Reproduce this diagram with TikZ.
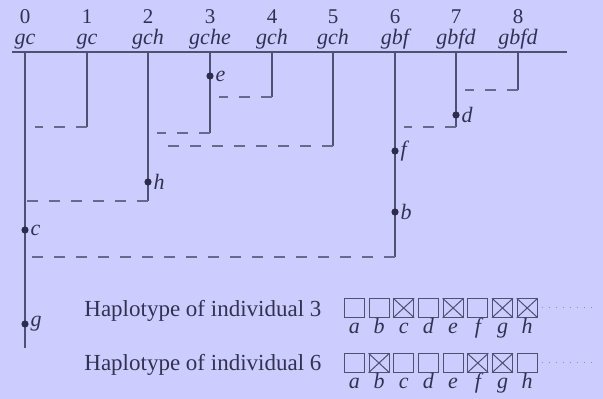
\documentclass[tikz,border=0pt]{standalone}
\usepackage{fontspec}
\setmainfont{Liberation Serif}
\definecolor{bgC}{RGB}{204,204,255}
\definecolor{txtC}{RGB}{50,50,80}
\definecolor{lineC}{RGB}{80,80,112}
\definecolor{dashC}{RGB}{105,105,140}
\definecolor{dotC}{RGB}{45,45,75}
\definecolor{dotlineC}{RGB}{140,140,175}
\begin{document}
\begin{tikzpicture}[x=0.5pt,y=-0.5pt,
  lin/.style={draw=lineC, line width=0.65pt},
  dsh/.style={draw=dashC, line width=0.65pt, dash pattern=on 5.5pt off 5.5pt},
  dotn/.style={circle, fill=dotC, inner sep=0pt, minimum size=3.6pt},
  num/.style={font=\fontsize{10.5}{12}\selectfont, text=txtC, anchor=base, inner sep=0pt},
  seq/.style={font=\fontsize{11}{13}\selectfont\itshape, text=txtC, anchor=base, inner sep=0pt},
  mut/.style={font=\fontsize{11}{13}\selectfont\itshape, text=txtC, anchor=west, inner sep=0.6pt},
  txt/.style={font=\fontsize{11.5}{14}\selectfont, text=txtC, anchor=base west, inner sep=0pt},
  hbox/.style={draw=lineC, line width=0.5pt, minimum width=10pt, minimum height=9.2pt, inner sep=0pt},
  xln/.style={draw=lineC, line width=0.5pt},
  dtt/.style={draw=dotlineC, line width=0.5pt, dash pattern=on 0.5pt off 3pt}
]
\fill[bgC] (0,0) rectangle (603,399);
\useasboundingbox (0,0) rectangle (603,399);

% sequence axis
\coordinate (axL) at (12,52);
\coordinate (axR) at (567,52);
\draw[lin] (axL) -- (axR);

% lineages: index / x / bottom y / number / sequence label
\foreach \i/\x/\yb/\s in {0/25/348/gc, 1/87/127/gc, 2/148/201/gch, 3/210/133/gche,
                          4/272/97/gch, 5/333/146/gch, 6/395/257/gbf, 7/456/127/gbfd, 8/518/90/gbfd}{
  \coordinate (t\i) at (\x,52);
  \coordinate (b\i) at (\x,\yb);
  \node[num] (n\i) at (\x,24) {\i};
  \node[seq] (s\i) at (\x,45) {\s};
  \draw[lin] (t\i) -- (b\i);
}

% coalescence joins (dashed, from child lineage to its parent)
\coordinate (j1) at (35,127);
\coordinate (j2) at (25,201);
\coordinate (j3) at (157,133);
\coordinate (j4) at (219,97);
\coordinate (j5) at (159,146);
\coordinate (j6) at (25,257);
\coordinate (j7) at (404,127);
\coordinate (j8) at (465,90);
\foreach \i in {1,...,8}{ \draw[dsh] (b\i) -- (j\i); }

% mutations
\foreach \m/\x/\y in {e/210/76, d/456/115, f/395/151, h/148/182, b/395/212, c/25/230, g/25/324}{
  \node[dotn] (m\m) at (\x,\y) {};
  \node[mut] (l\m) at (m\m.east) {\m};
}

% haplotypes
\node[txt] (h3) at (84,317) {Haplotype of individual 3};
\node[txt] (h6) at (84,371) {Haplotype of individual 6};
\foreach \r/\yc in {3/308, 6/363}{
  \foreach \l [count=\k from 0] in {a,b,c,d,e,f,g,h}{
    \node[hbox] (r\r\l) at ({354.3+24.7*\k},\yc) {};
    \node[seq] (r\r\l-t) at ([yshift=-8pt]r\r\l.south) {\l};
  }
  \coordinate (r\r end) at (593,\yc);
  \draw[dtt] ([xshift=2pt]r\r h.east) -- (r\r end);
}
\foreach \l in {c,e,g,h}{
  \draw[xln] (r3\l.north west) -- (r3\l.south east) (r3\l.north east) -- (r3\l.south west);
}
\foreach \l in {b,f,g}{
  \draw[xln] (r6\l.north west) -- (r6\l.south east) (r6\l.north east) -- (r6\l.south west);
}
\end{tikzpicture}
\end{document}
